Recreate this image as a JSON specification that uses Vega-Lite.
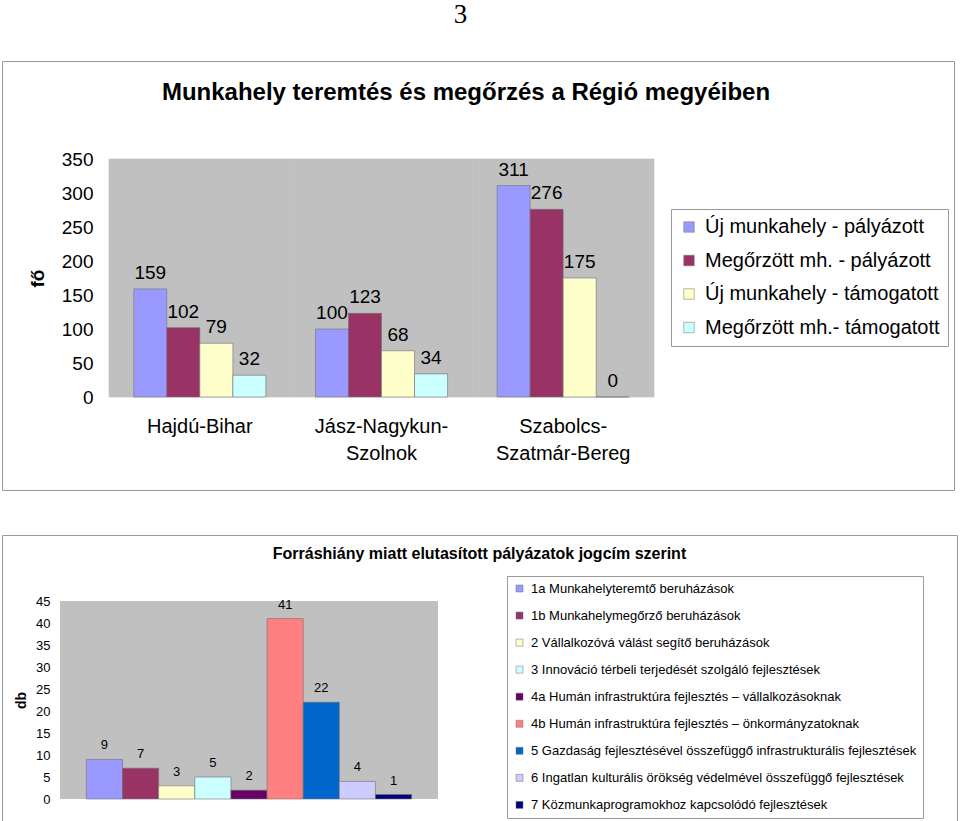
{
  "$schema": "https://vega.github.io/schema/vega-lite/v6.json",
  "background": "white",
  "padding": {"left": 1, "top": 0, "right": 0, "bottom": 0},
  "title": {"text": "3", "font": "Liberation Serif", "fontSize": 27, "fontWeight": "normal", "color": "black", "anchor": "middle", "dx": -19, "offset": 32},
  "spacing": 43,
  "resolve": {"scale": {"color": "independent", "xOffset": "independent", "x": "independent", "y": "independent"}, "legend": {"color": "independent"}, "axis": {"x": "independent", "y": "independent"}},
  "config": {
    "font": "Liberation Sans",
    "text": {"font": "Liberation Sans", "color": "black"},
    "axis": {"labelColor": "black", "titleColor": "black", "labelFont": "Liberation Sans", "titleFont": "Liberation Sans", "labelOverlap": false},
    "legend": {"labelColor": "black", "labelFont": "Liberation Sans"},
    "title": {"color": "black", "font": "Liberation Sans"}
  },
  "vconcat": [
    {
      "width": 952,
      "height": 429,
      "view": {"stroke": "#9a9a9a", "strokeWidth": 1, "fill": "white"},
      "title": {"text": "Munkahely teremtés és megőrzés a Régió megyéiben", "fontSize": 24, "fontWeight": "bold", "anchor": "middle", "frame": "group", "offset": -44, "dx": -12},
      "data": {"values": [
        {"megye": "Hajdú-Bihar", "sorozat": "Új munkahely - pályázott", "fo": 159},
        {"megye": "Hajdú-Bihar", "sorozat": "Megőrzött mh. - pályázott", "fo": 102},
        {"megye": "Hajdú-Bihar", "sorozat": "Új munkahely - támogatott", "fo": 79},
        {"megye": "Hajdú-Bihar", "sorozat": "Megőrzött mh.- támogatott", "fo": 32},
        {"megye": "Jász-Nagykun-Szolnok", "sorozat": "Új munkahely - pályázott", "fo": 100},
        {"megye": "Jász-Nagykun-Szolnok", "sorozat": "Megőrzött mh. - pályázott", "fo": 123},
        {"megye": "Jász-Nagykun-Szolnok", "sorozat": "Új munkahely - támogatott", "fo": 68},
        {"megye": "Jász-Nagykun-Szolnok", "sorozat": "Megőrzött mh.- támogatott", "fo": 34},
        {"megye": "Szabolcs-Szatmár-Bereg", "sorozat": "Új munkahely - pályázott", "fo": 311},
        {"megye": "Szabolcs-Szatmár-Bereg", "sorozat": "Megőrzött mh. - pályázott", "fo": 276},
        {"megye": "Szabolcs-Szatmár-Bereg", "sorozat": "Új munkahely - támogatott", "fo": 175},
        {"megye": "Szabolcs-Szatmár-Bereg", "sorozat": "Megőrzött mh.- támogatott", "fo": 0}
      ]},
      "layer": [
        {
          "data": {"values": [{"megye": "Hajdú-Bihar"}, {"megye": "Jász-Nagykun-Szolnok"}, {"megye": "Szabolcs-Szatmár-Bereg"}]},
          "mark": {"type": "rect", "fill": "#C0C0C0", "stroke": "#C0C0C0", "strokeWidth": 0.6},
          "encoding": {
            "x": {"field": "megye", "type": "nominal",
              "scale": {"domain": ["Hajdú-Bihar", "Jász-Nagykun-Szolnok", "Szabolcs-Szatmár-Bereg"], "range": [107, 652], "paddingInner": 0, "paddingOuter": 0},
              "axis": {"title": null, "orient": "bottom", "offset": -93, "domain": false, "ticks": false, "labelPadding": 19, "labelFontSize": 20, "labelAngle": 0, "labelBaseline": "top", "labelLineHeight": 27, "labelLimit": 300,
                "labelExpr": "datum.value == 'Jász-Nagykun-Szolnok' ? ['Jász-Nagykun-', 'Szolnok'] : datum.value == 'Szabolcs-Szatmár-Bereg' ? ['Szabolcs-', 'Szatmár-Bereg'] : datum.value"}},
            "y": {"datum": 0, "type": "quantitative",
              "scale": {"domain": [0, 350], "range": [336, 98], "nice": false},
              "axis": {"title": "fő", "values": [0, 50, 100, 150, 200, 250, 300, 350], "tickCount": 8, "domain": false, "ticks": false, "grid": false, "offset": -107, "labelPadding": 16, "labelFontSize": 19, "titleFontSize": 19, "titleFontWeight": "bold", "titlePadding": 14}},
            "y2": {"datum": 350}
          }
        },
        {
          "mark": {"type": "bar", "stroke": "#707070", "strokeWidth": 0.6},
          "encoding": {
            "x": {"field": "megye", "type": "nominal"},
            "xOffset": {"field": "sorozat", "type": "nominal", "scale": {"domain": ["Új munkahely - pályázott", "Megőrzött mh. - pályázott", "Új munkahely - támogatott", "Megőrzött mh.- támogatott"], "paddingInner": 0, "paddingOuter": 0.75}},
            "y": {"field": "fo", "type": "quantitative",
              "axis": {"title": "fő", "values": [0, 50, 100, 150, 200, 250, 300, 350], "tickCount": 8, "domain": false, "ticks": false, "grid": false, "offset": -107, "labelPadding": 16, "labelFontSize": 19, "titleFontSize": 19, "titleFontWeight": "bold", "titlePadding": 14}},
            "color": {"field": "sorozat", "type": "nominal",
              "scale": {"domain": ["Új munkahely - pályázott", "Megőrzött mh. - pályázott", "Új munkahely - támogatott", "Megőrzött mh.- támogatott"], "range": ["#9999FF", "#993366", "#FFFFCC", "#CCFFFF"]},
              "legend": {"title": null, "orient": "none", "legendX": 669, "legendY": 148, "direction": "vertical", "symbolType": "square", "symbolSize": 110, "symbolStrokeColor": "#707070", "symbolStrokeWidth": 0.5, "labelFontSize": 20, "labelLimit": 400, "labelOffset": 6, "strokeColor": "#9a9a9a", "fillColor": "white", "padding": 8, "rowPadding": 13.5}}
          }
        },
        {
          "mark": {"type": "text", "baseline": "bottom", "dy": -6, "fontSize": 19},
          "encoding": {
            "x": {"field": "megye", "type": "nominal"},
            "xOffset": {"field": "sorozat", "type": "nominal"},
            "y": {"field": "fo", "type": "quantitative"},
            "text": {"field": "fo", "type": "quantitative"}
          }
        }
      ]
    },
    {
      "width": 955,
      "height": 286,
      "view": {"stroke": "#9a9a9a", "strokeWidth": 1, "fill": "white"},
      "title": {"text": "Forráshiány miatt elutasított pályázatok jogcím szerint", "fontSize": 16, "fontWeight": "bold", "anchor": "middle", "frame": "group", "offset": -27},
      "data": {"values": [
        {"csoport": "A", "jogcim": "1a Munkahelyteremtő beruházások", "db": 9},
        {"csoport": "A", "jogcim": "1b Munkahelymegőrző beruházások", "db": 7},
        {"csoport": "A", "jogcim": "2 Vállalkozóvá válást segítő beruházások", "db": 3},
        {"csoport": "A", "jogcim": "3 Innováció térbeli terjedését szolgáló fejlesztések", "db": 5},
        {"csoport": "A", "jogcim": "4a Humán infrastruktúra fejlesztés – vállalkozásoknak", "db": 2},
        {"csoport": "A", "jogcim": "4b Humán infrastruktúra fejlesztés – önkormányzatoknak", "db": 41},
        {"csoport": "A", "jogcim": "5 Gazdaság fejlesztésével összefüggő infrastrukturális fejlesztések", "db": 22},
        {"csoport": "A", "jogcim": "6 Ingatlan kulturális örökség védelmével összefüggő fejlesztések", "db": 4},
        {"csoport": "A", "jogcim": "7 Közmunkaprogramokhoz kapcsolódó fejlesztések", "db": 1}
      ]},
      "layer": [
        {
          "data": {"values": [{"csoport": "A"}]},
          "mark": {"type": "rect", "fill": "#C0C0C0"},
          "encoding": {
            "x": {"field": "csoport", "type": "nominal",
              "scale": {"domain": ["A"], "range": [58, 436], "paddingInner": 0, "paddingOuter": 0},
              "axis": {"title": null, "labels": false, "domain": false, "ticks": false, "grid": false}},
            "y": {"datum": 0, "type": "quantitative",
              "scale": {"domain": [0, 45], "range": [264, 66], "nice": false},
              "axis": {"title": "db", "values": [0, 5, 10, 15, 20, 25, 30, 35, 40, 45], "tickCount": 10, "labelOverlap": false, "domain": false, "ticks": false, "grid": false, "offset": -58, "labelPadding": 10, "labelFontSize": 13, "titleFontSize": 14, "titleFontWeight": "bold", "titlePadding": 7}},
            "y2": {"datum": 45}
          }
        },
        {
          "mark": {"type": "bar", "stroke": "#707070", "strokeWidth": 0.6},
          "encoding": {
            "x": {"field": "csoport", "type": "nominal"},
            "xOffset": {"field": "jogcim", "type": "nominal",
              "scale": {"domain": ["1a Munkahelyteremtő beruházások", "1b Munkahelymegőrző beruházások", "2 Vállalkozóvá válást segítő beruházások", "3 Innováció térbeli terjedését szolgáló fejlesztések", "4a Humán infrastruktúra fejlesztés – vállalkozásoknak", "4b Humán infrastruktúra fejlesztés – önkormányzatoknak", "5 Gazdaság fejlesztésével összefüggő infrastrukturális fejlesztések", "6 Ingatlan kulturális örökség védelmével összefüggő fejlesztések", "7 Közmunkaprogramokhoz kapcsolódó fejlesztések"], "paddingInner": 0, "paddingOuter": 0.73}},
            "y": {"field": "db", "type": "quantitative",
              "axis": {"title": "db", "values": [0, 5, 10, 15, 20, 25, 30, 35, 40, 45], "tickCount": 10, "labelOverlap": false, "domain": false, "ticks": false, "grid": false, "offset": -58, "labelPadding": 10, "labelFontSize": 13, "titleFontSize": 14, "titleFontWeight": "bold", "titlePadding": 7}},
            "color": {"field": "jogcim", "type": "nominal",
              "scale": {"domain": ["1a Munkahelyteremtő beruházások", "1b Munkahelymegőrző beruházások", "2 Vállalkozóvá válást segítő beruházások", "3 Innováció térbeli terjedését szolgáló fejlesztések", "4a Humán infrastruktúra fejlesztés – vállalkozásoknak", "4b Humán infrastruktúra fejlesztés – önkormányzatoknak", "5 Gazdaság fejlesztésével összefüggő infrastrukturális fejlesztések", "6 Ingatlan kulturális örökség védelmével összefüggő fejlesztések", "7 Közmunkaprogramokhoz kapcsolódó fejlesztések"], "range": ["#9999FF", "#993366", "#FFFFCC", "#CCFFFF", "#660066", "#FF8080", "#0066CC", "#CCCCFF", "#000080"]},
              "legend": {"title": null, "orient": "none", "legendX": 505, "legendY": 41, "direction": "vertical", "symbolType": "square", "symbolSize": 49, "symbolStrokeColor": "#707070", "symbolStrokeWidth": 0.5, "labelFontSize": 13, "labelLimit": 600, "labelOffset": 5, "strokeColor": "#9a9a9a", "fillColor": "white", "padding": 6, "rowPadding": 13.05}}
          }
        },
        {
          "mark": {"type": "text", "baseline": "bottom", "dy": -7, "fontSize": 13},
          "encoding": {
            "x": {"field": "csoport", "type": "nominal"},
            "xOffset": {"field": "jogcim", "type": "nominal"},
            "y": {"field": "db", "type": "quantitative"},
            "text": {"field": "db", "type": "quantitative"}
          }
        }
      ]
    }
  ]
}
